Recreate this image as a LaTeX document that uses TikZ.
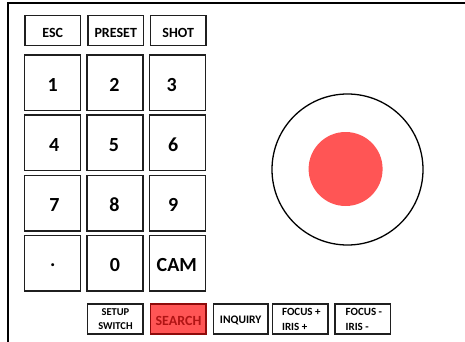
\documentclass[tikz,border=0pt]{standalone}
\usepackage{fontspec}
\setmainfont{Carlito}
\definecolor{keyred}{HTML}{FF5555}
\definecolor{keyredline}{HTML}{8E0A0A}
\definecolor{keyredtext}{HTML}{B01414}
\begin{document}
\begin{tikzpicture}[x=1pt,y=-1pt,
  keybox/.style={draw=black!88,line width=1.5pt,fill=white,inner sep=0pt,outer sep=0pt,anchor=north west},
  smallkey/.style={keybox,minimum width=55.5pt,minimum height=30pt},
  numkey/.style={keybox,minimum width=56pt,minimum height=55.5pt},
  bigtext/.style={font=\bfseries\fontsize{20}{22}\selectfont,inner sep=0pt},
  toptext/.style={font=\bfseries\fontsize{14}{16}\selectfont,inner sep=0pt},
  lowtext/.style={font=\bfseries\fontsize{11}{14.5}\selectfont,inner sep=0pt},
  frame/.style={line width=1.3pt,black}]
\useasboundingbox (0,0) rectangle (465,342);
\coordinate (fbl) at (8,342);
\coordinate (ftl) at (8,3);
\coordinate (ftr) at (465,3);
\draw[frame] (fbl) -- (ftl) -- (ftr);
% top row
\node[smallkey] (esc) at (25,15.7) {};
\node[smallkey] (preset) at (88,15.7) {};
\node[smallkey] (shot) at (150.5,15.7) {};
\node[toptext,yshift=-2pt] (tesc) at (esc.center) {ESC};
\node[toptext,yshift=-2pt] (tpreset) at (preset.center) {PRESET};
\node[toptext,yshift=-2pt] (tshot) at (shot.center) {SHOT};
% number keys
\foreach \lab/\c/\r/\dx [count=\i] in {1/0/0/0,2/1/0/-0.5,3/2/0/-5.5,4/0/1/1.5,5/1/1/-1,6/2/1/-4,7/0/2/1.8,8/1/2/-0.5,9/2/2/-4,./0/3/0,0/1/3/0,CAM/2/3/-0.5}{
  \node[numkey] (k\i) at ({24.7+62.3*\c},{55+60.2*\r}) {};
  \node[bigtext,yshift=-2pt,xshift=\dx pt] (t\i) at (k\i.center) {\lab};
}
% bottom row
\node[smallkey] (setup) at (87.7,304.2) {};
\node[smallkey,fill=keyred,draw=keyredline] (search) at (150.7,304.2) {};
\node[smallkey,minimum width=54.7pt] (inquiry) at (213.3,304.2) {};
\node[smallkey,minimum width=55.3pt] (focusp) at (272.7,304.2) {};
\node[smallkey,minimum width=55.7pt] (focusm) at (335,304.2) {};
\node[lowtext,align=center,font=\bfseries\fontsize{10.5}{14}\selectfont] (tsetup) at (setup.center) {SETUP\\SWITCH};
\node[toptext,text=keyredtext,yshift=-1.5pt] (tsearch) at (search.center) {SEARCH};
\node[lowtext,font=\bfseries\fontsize{11.5}{14}\selectfont,yshift=-1.5pt] (tinquiry) at (inquiry.center) {INQUIRY};
\node[lowtext,align=left] (tfocusp) at ([xshift=1pt]focusp.center) {FOCUS +\\IRIS +};
\node[lowtext,align=left] (tfocusm) at ([xshift=1pt]focusm.center) {FOCUS -\\IRIS -};
% joystick
\node[circle,draw=black,line width=1.3pt,minimum size=151pt,inner sep=0pt] (joy) at (347.5,169.5) {};
\node[circle,fill=keyred,minimum size=74pt,inner sep=0pt] (knob) at (345.6,169) {};
\end{tikzpicture}
\end{document}
